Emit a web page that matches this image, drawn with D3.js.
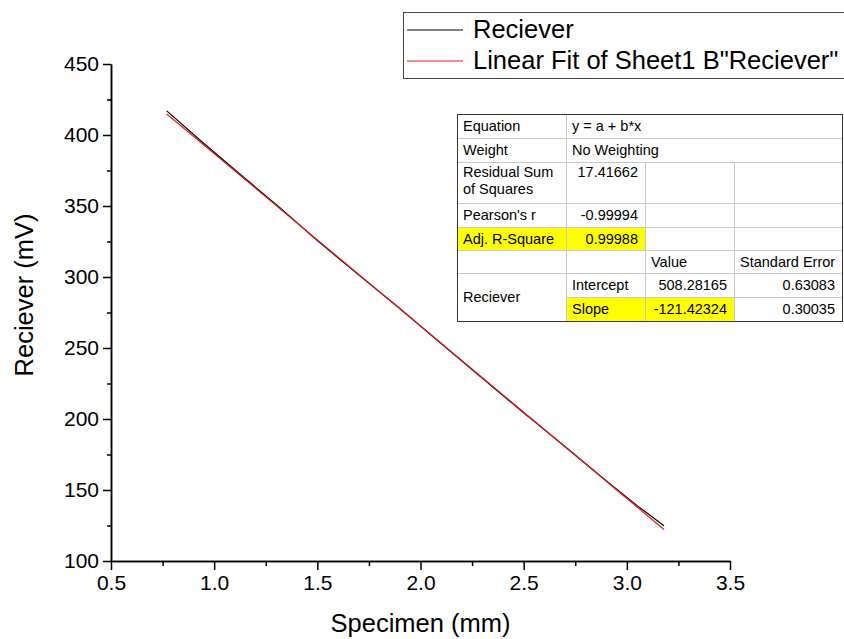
<!DOCTYPE html>
<html>
<head>
<meta charset="utf-8">
<style>
    body { margin: 0; background: #fff; }
    svg { font-family: Arial, 'Liberation Sans', sans-serif; }
    .tick text { font-size: 21px; fill: #000; }
    .axis path, .axis line { stroke: #000; stroke-width: 1.5px; }
    .title { font-size: 25.5px; fill: #000; }
    .legend text { font-size: 25.5px; fill: #000; }
    .tbl text { font-size: 14.5px; fill: #000; }
</style>
</head>
<body>
<svg id="chart" width="844" height="639"></svg>
<script src="https://cdn.jsdelivr.net/npm/d3@7/dist/d3.min.js"></script>
<script>
    // measured data (black)
    var specimen = [0.77, 0.95, 1.13, 1.32, 1.50, 1.70, 1.90, 2.10, 2.30, 2.50, 2.70, 2.90, 3.05, 3.18];
    var reciever = [417.0, 394.0, 371.8, 348.6, 325.6, 301.5, 277.8, 253.2, 228.6, 204.3, 180.6, 156.6, 139.0, 124.8];
    // linear fit end points (red)
    var fitX = [0.77, 3.18];
    var fitY = [414.8, 122.2];

    var xTicks = [0.5, 1.0, 1.5, 2.0, 2.5, 3.0, 3.5];
    var xMinor = [0.75, 1.25, 1.75, 2.25, 2.75, 3.25];
    var yTicks = [100, 150, 200, 250, 300, 350, 400, 450];
    var yMinor = [125, 175, 225, 275, 325, 375, 425];

    var legendLabels = ['Reciever', 'Linear Fit of Sheet1 B"Reciever"'];
    var legendColors = ['#000', '#e8191b'];

    // fit report table
    var tableRows = [
        ['Equation', 'y = a + b*x'],
        ['Weight', 'No Weighting'],
        ['Residual Sum|of Squares', '17.41662', '', ''],
        ["Pearson's r", '-0.99994', '', ''],
        ['Adj. R-Square', '0.99988', '', ''],
        ['', '', 'Value', 'Standard Error'],
        ['Reciever', 'Intercept', '508.28165', '0.63083'],
        ['', 'Slope', '-121.42324', '0.30035']
    ];

    var svg = d3.select('#chart');
    var pLeft = 111, pRight = 730, pTop = 64, pBottom = 561;

    var x = d3.scaleLinear().domain([0.5, 3.5]).range([pLeft, pRight]);
    var y = d3.scaleLinear().domain([100, 450]).range([pBottom, pTop]);

    // axes
    svg.append('g').attr('class', 'axis')
        .attr('transform', 'translate(0,' + pBottom + ')')
        .call(d3.axisBottom(x).tickValues(xTicks).tickSize(9).tickSizeOuter(0).tickPadding(5)
            .tickFormat(d3.format('.1f')));
    svg.append('g').attr('class', 'axis')
        .attr('transform', 'translate(0,' + pBottom + ')')
        .call(d3.axisBottom(x).tickValues(xMinor).tickSize(5).tickSizeOuter(0).tickFormat(''));
    svg.append('g').attr('class', 'axis')
        .attr('transform', 'translate(' + pLeft + ',0)')
        .call(d3.axisLeft(y).tickValues(yTicks).tickSize(8).tickSizeOuter(0).tickPadding(4));
    svg.append('g').attr('class', 'axis')
        .attr('transform', 'translate(' + pLeft + ',0)')
        .call(d3.axisLeft(y).tickValues(yMinor).tickSize(4).tickSizeOuter(0).tickFormat(''));

    svg.selectAll('.axis').attr('font-family', null);

    // axis titles
    svg.append('text').attr('class', 'title')
        .attr('x', (pLeft + pRight) / 2).attr('y', 632)
        .attr('text-anchor', 'middle')
        .text('Specimen (mm)');
    svg.append('text').attr('class', 'title')
        .attr('transform', 'translate(33,295) rotate(-90)')
        .attr('text-anchor', 'middle')
        .text('Reciever (mV)');

    // lines
    var line = d3.line().x(function(d) { return x(d[0]); }).y(function(d) { return y(d[1]); });
    svg.append('path')
        .datum(specimen.map(function(v, i) { return [v, reciever[i]]; }))
        .attr('fill', 'none').attr('stroke', '#000').attr('stroke-width', 1.2)
        .attr('d', line);
    svg.append('path')
        .datum(fitX.map(function(v, i) { return [v, fitY[i]]; }))
        .attr('fill', 'none').attr('stroke', legendColors[1]).attr('stroke-width', 1.2)
        .attr('d', line);

    // legend
    var lg = svg.append('g').attr('class', 'legend');
    lg.append('rect').attr('x', 403.5).attr('y', 12.5).attr('width', 450).attr('height', 66)
        .attr('fill', '#fff').attr('stroke', '#444').attr('stroke-width', 1);
    legendLabels.forEach(function(lab, i) {
        var ly = 30 + i * 31;
        lg.append('line').attr('x1', 407).attr('x2', 463).attr('y1', ly).attr('y2', ly)
            .attr('stroke', legendColors[i]).attr('stroke-width', 1.2);
        lg.append('text').attr('x', 473).attr('y', ly + 8).text(lab);
    });

    // table
    var colX = [457, 566, 645, 734, 842];
    var rowY = [114, 138, 162, 203, 227, 250, 273, 297, 321];
    var tb = svg.append('g').attr('class', 'tbl');
    var yellow = '#ffff00';
    // highlighted cells
    tb.append('rect').attr('x', colX[0]).attr('y', rowY[4]).attr('width', colX[2] - colX[0]).attr('height', rowY[5] - rowY[4]).attr('fill', yellow);
    tb.append('rect').attr('x', colX[1]).attr('y', rowY[7]).attr('width', colX[3] - colX[1]).attr('height', rowY[8] - rowY[7]).attr('fill', yellow);

    var grid = '#c8c8c8';
    // horizontal lines
    rowY.slice(1, -1).forEach(function(ry, i) {
        var x0 = (i + 1 === 7) ? colX[1] : colX[0];
        tb.append('line').attr('x1', x0).attr('x2', colX[4]).attr('y1', ry + 0.5).attr('y2', ry + 0.5)
            .attr('stroke', grid);
    });
    // vertical lines
    tb.append('line').attr('x1', colX[1] + 0.5).attr('x2', colX[1] + 0.5).attr('y1', rowY[0]).attr('y2', rowY[8]).attr('stroke', grid);
    [2, 3].forEach(function(c) {
        tb.append('line').attr('x1', colX[c] + 0.5).attr('x2', colX[c] + 0.5).attr('y1', rowY[2]).attr('y2', rowY[8]).attr('stroke', grid);
    });
    tb.append('rect').attr('x', colX[0] + 0.5).attr('y', rowY[0] + 0.5)
        .attr('width', colX[4] - colX[0]).attr('height', rowY[8] - rowY[0])
        .attr('fill', 'none').attr('stroke', '#333');

    // cell text
    tableRows.forEach(function(row, r) {
        var ty = rowY[r] + 17;
        row.forEach(function(cell, c) {
            if (!cell) return;
            var t = tb.append('text');
            var cy = ty;
            if (r === 6 && c === 0) cy = rowY[7] + 5;
            var numeric = /^-?[0-9.]+$/.test(cell);
            if (numeric) {
                t.attr('x', colX[c + 1] - 7).attr('text-anchor', 'end');
                if (r === 2) cy = rowY[r] + 15;
            } else {
                t.attr('x', colX[c] + 6);
            }
            var parts = cell.split('|');
            if (parts.length > 1) {
                parts.forEach(function(p, k) {
                    t.append('tspan').attr('x', colX[c] + 6).attr('y', rowY[r] + 15 + k * 17).text(p);
                });
            } else {
                t.attr('y', cy).text(cell);
            }
        });
    });
</script>
</body>
</html>
